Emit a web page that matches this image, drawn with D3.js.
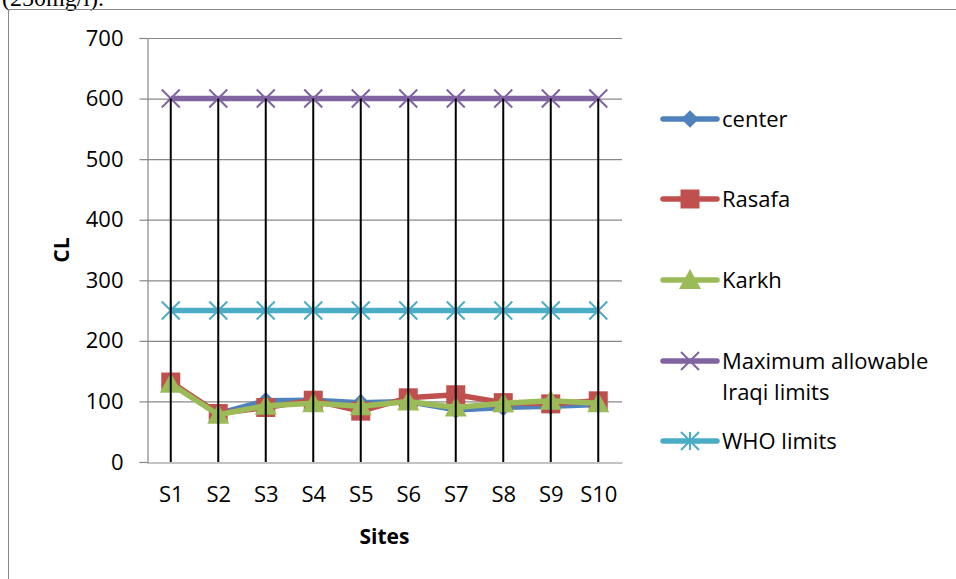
<!DOCTYPE html>
<html>
<head>
<meta charset="utf-8">
<script src="https://cdn.jsdelivr.net/npm/d3@7"></script>
<style>
  body { margin: 0; background: #fff; }
  svg { display: block; }
</style>
</head>
<body>
<div id="chart"></div>
<script>
// data
const sites = ['S1', 'S2', 'S3', 'S4', 'S5', 'S6', 'S7', 'S8', 'S9', 'S10'];
const center = [130, 80, 101, 102, 98, 100, 86, 90, 92, 95];
const rasafa = [132, 80, 90, 102, 84, 106, 111, 98, 96, 101];
const karkh = [129, 78, 93, 97, 92, 100, 90, 97, 101, 97];
const iraqiLimit = [600, 600, 600, 600, 600, 600, 600, 600, 600, 600];
const whoLimit = [250, 250, 250, 250, 250, 250, 250, 250, 250, 250];
const yTicks = [0, 100, 200, 300, 400, 500, 600, 700];

const series = [
    { name: ['center'], values: center, color: '#4F81BD', marker: 'diamond' },
    { name: ['Rasafa'], values: rasafa, color: '#C0504D', marker: 'square' },
    { name: ['Karkh'], values: karkh, color: '#9BBB59', marker: 'triangle' },
    { name: ['Maximum allowable', 'Iraqi limits'], values: iraqiLimit, color: '#8064A2', marker: 'x' },
    { name: ['WHO limits'], values: whoLimit, color: '#4BACC6', marker: 'star' }
];

const width = 956, height = 579;
const plot = { left: 147, right: 622, top: 38, bottom: 462 };
const font = "'Open Sans', 'Noto Sans', sans-serif";
const fontSize = 22;

const svg = d3.select('#chart').append('svg')
    .attr('width', width)
    .attr('height', height);

// cut-off caption text from the page above the chart
svg.append('text')
    .attr('x', 2).attr('y', 6)
    .attr('font-family', "'Liberation Serif', serif")
    .attr('font-size', 24)
    .text('(250mg/l).');

// chart border
svg.append('rect')
    .attr('x', 8.5).attr('y', 9.5)
    .attr('width', 960).attr('height', 600)
    .attr('fill', 'none')
    .attr('stroke', '#888')
    .attr('stroke-width', 1);

const x = d3.scalePoint()
    .domain(sites)
    .range([plot.left, plot.right])
    .padding(0.5);

const y = d3.scaleLinear()
    .domain([0, 700])
    .range([plot.bottom, plot.top]);

// gridlines
svg.append('g')
    .selectAll('line')
    .data(yTicks.filter(d => d > 0))
    .enter()
    .append('line')
    .attr('x1', plot.left).attr('x2', plot.right)
    .attr('y1', d => y(d) + 0.5).attr('y2', d => y(d) + 0.5)
    .attr('stroke', '#888')
    .attr('stroke-width', 1.2);

// y axis
const yAxis = svg.append('g')
    .attr('transform', `translate(${plot.left + 0.5},0)`)
    .call(d3.axisLeft(y).tickValues(yTicks).tickSize(8).tickPadding(16));
yAxis.select('.domain').attr('stroke', '#888').attr('stroke-width', 1.2);
yAxis.selectAll('.tick line').attr('stroke', '#888').attr('stroke-width', 1.2);
yAxis.selectAll('.tick text')
    .attr('font-family', font)
    .attr('font-size', fontSize)
    .attr('fill', '#000');

// x axis
const xAxis = svg.append('g')
    .attr('transform', `translate(0,${plot.bottom + 0.5})`)
    .call(d3.axisBottom(x).tickSize(0).tickPadding(24));
xAxis.select('.domain').attr('stroke', '#888').attr('stroke-width', 1.2);
xAxis.selectAll('.tick text')
    .attr('font-family', font)
    .attr('font-size', fontSize)
    .attr('fill', '#000');

// axis titles
svg.append('text')
    .attr('x', (plot.left + plot.right) / 2)
    .attr('y', 544)
    .attr('text-anchor', 'middle')
    .attr('font-family', font)
    .attr('font-size', fontSize - 1)
    .attr('font-weight', 'bold')
    .text('Sites');

svg.append('text')
    .attr('transform', `translate(69,${(plot.top + plot.bottom) / 2}) rotate(-90)`)
    .attr('text-anchor', 'middle')
    .attr('font-family', font)
    .attr('font-size', fontSize - 1)
    .attr('font-weight', 'bold')
    .text('CL');

function drawMarker(g, type, color, size) {
    const s = size;
    if (type === 'diamond') {
        g.append('path')
            .attr('d', `M0,${-s * 0.55}L${s * 0.55},0L0,${s * 0.55}L${-s * 0.55},0Z`)
            .attr('fill', color);
    } else if (type === 'square') {
        g.append('rect')
            .attr('x', -s / 2).attr('y', -s / 2)
            .attr('width', s).attr('height', s)
            .attr('fill', color);
    } else if (type === 'triangle') {
        g.append('path')
            .attr('d', `M0,${-s * 0.55}L${s * 0.55},${s * 0.45}L${-s * 0.55},${s * 0.45}Z`)
            .attr('fill', color);
    } else if (type === 'x') {
        const h = s / 2;
        g.append('path')
            .attr('d', `M${-h},${-h}L${h},${h}M${-h},${h}L${h},${-h}`)
            .attr('stroke', color)
            .attr('stroke-width', 2)
            .attr('fill', 'none');
    } else if (type === 'star') {
        const h = s / 2;
        g.append('path')
            .attr('d', `M${-h},${-h}L${h},${h}M${-h},${h}L${h},${-h}M0,${-h}L0,${h}`)
            .attr('stroke', color)
            .attr('stroke-width', 2)
            .attr('fill', 'none');
    }
}

const markerSize = { diamond: 16, square: 19, triangle: 20, x: 18, star: 18 };

const line = d3.line()
    .x((d, i) => x(sites[i]))
    .y(d => y(d))
    .curve(d3.curveLinear);

// draw the series, limits first so the measured values sit on top
const drawOrder = [3, 4, 0, 1, 2];
for (const idx of drawOrder) {
    const s = series[idx];
    const g = svg.append('g');
    g.append('path')
        .datum(s.values)
        .attr('d', line)
        .attr('fill', 'none')
        .attr('stroke', s.color)
        .attr('stroke-width', 5.5)
        .attr('stroke-linejoin', 'round');
    s.values.forEach((v, i) => {
        const m = g.append('g')
            .attr('transform', `translate(${x(sites[i])},${y(v)})`);
        drawMarker(m, s.marker, s.color, markerSize[s.marker]);
    });
}

// drop lines from the highest value down to the axis
svg.append('g')
    .selectAll('line')
    .data(sites)
    .enter()
    .append('line')
    .attr('x1', d => x(d)).attr('x2', d => x(d))
    .attr('y1', (d, i) => y(d3.max(series, s => s.values[i])))
    .attr('y2', y(0))
    .attr('stroke', '#000')
    .attr('stroke-width', 2);

// legend
const legendY = [119, 199, 280, 361, 441];
const legend = svg.append('g');
series.forEach((s, i) => {
    const g = legend.append('g')
        .attr('transform', `translate(663,${legendY[i]})`);
    g.append('line')
        .attr('x1', 0).attr('x2', 54)
        .attr('y1', 0).attr('y2', 0)
        .attr('stroke', s.color)
        .attr('stroke-width', 5.5)
        .attr('stroke-linecap', 'round');
    const m = g.append('g').attr('transform', 'translate(27,0)');
    drawMarker(m, s.marker, s.color, markerSize[s.marker]);
    s.name.forEach((t, k) => {
        g.append('text')
            .attr('x', 59)
            .attr('y', 8 + k * 31)
            .attr('font-family', font)
            .attr('font-size', fontSize)
            .attr('fill', '#000')
            .text(t);
    });
});
</script>
</body>
</html>
